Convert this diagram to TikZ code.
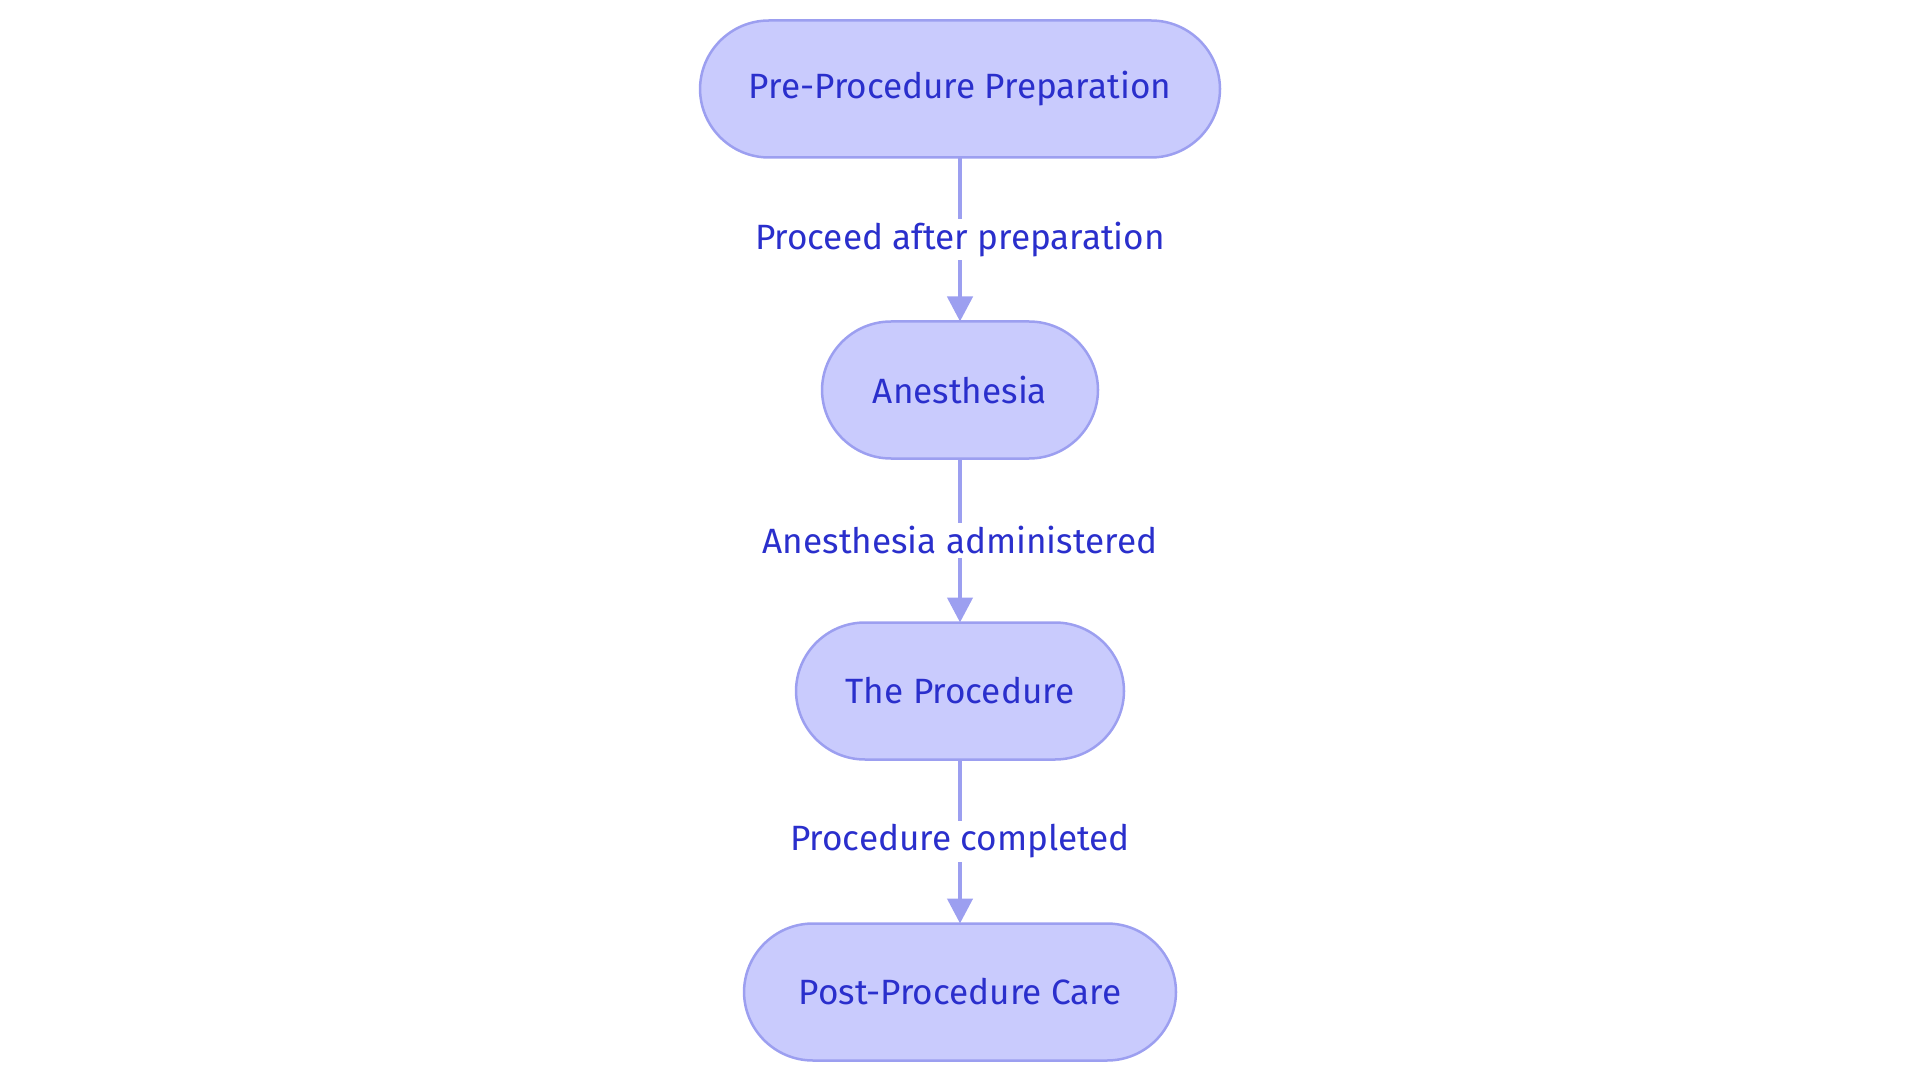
\documentclass[tikz,border=0pt]{standalone}
\usepackage{fontspec}
\setsansfont{Fira Sans}
\usetikzlibrary{arrows.meta, positioning}
\definecolor{boxFill}{HTML}{C9CBFD}
\definecolor{boxLine}{HTML}{9C9FF0}
\definecolor{boxText}{HTML}{2A2FCC}
\newcommand{\flowArrow}{{Triangle[length=5mm, width=5mm]}}

\begin{document}
\begin{tikzpicture}[font=\sffamily\fontsize{20}{24}\selectfont,
	stepbox/.style={draw=boxLine, fill=boxFill, text=boxText, line width=0.5mm, rounded corners=1.38cm, minimum height=2.74cm, inner xsep=0pt, outer sep=0pt},
	flow/.style={draw=boxLine, line width=0.9mm, -\flowArrow},
	tag/.style={fill=white, text=boxText, inner sep=2pt}]
	\useasboundingbox (0,0) rectangle (38.4,-21.66);

	\node[stepbox, minimum width=10.4cm] (prep) at (19.2,-1.78) {Pre-Procedure Preparation};
	\node[stepbox, minimum width=5.52cm, below=3.28cm of prep] (anest) {Anesthesia};
	\node[stepbox, minimum width=6.56cm, below=3.28cm of anest] (proc) {The Procedure};
	\node[stepbox, minimum width=8.64cm, below=3.28cm of proc] (post) {Post-Procedure Care};

	\draw[flow] (prep) -- node[tag, pos=0.5] {Proceed after preparation} (anest);
	\draw[flow] (anest) -- node[tag, pos=0.5] {Anesthesia administered} (proc);
	\draw[flow] (proc) -- node[tag, pos=0.5] {Procedure completed} (post);

\end{tikzpicture}
\end{document}
